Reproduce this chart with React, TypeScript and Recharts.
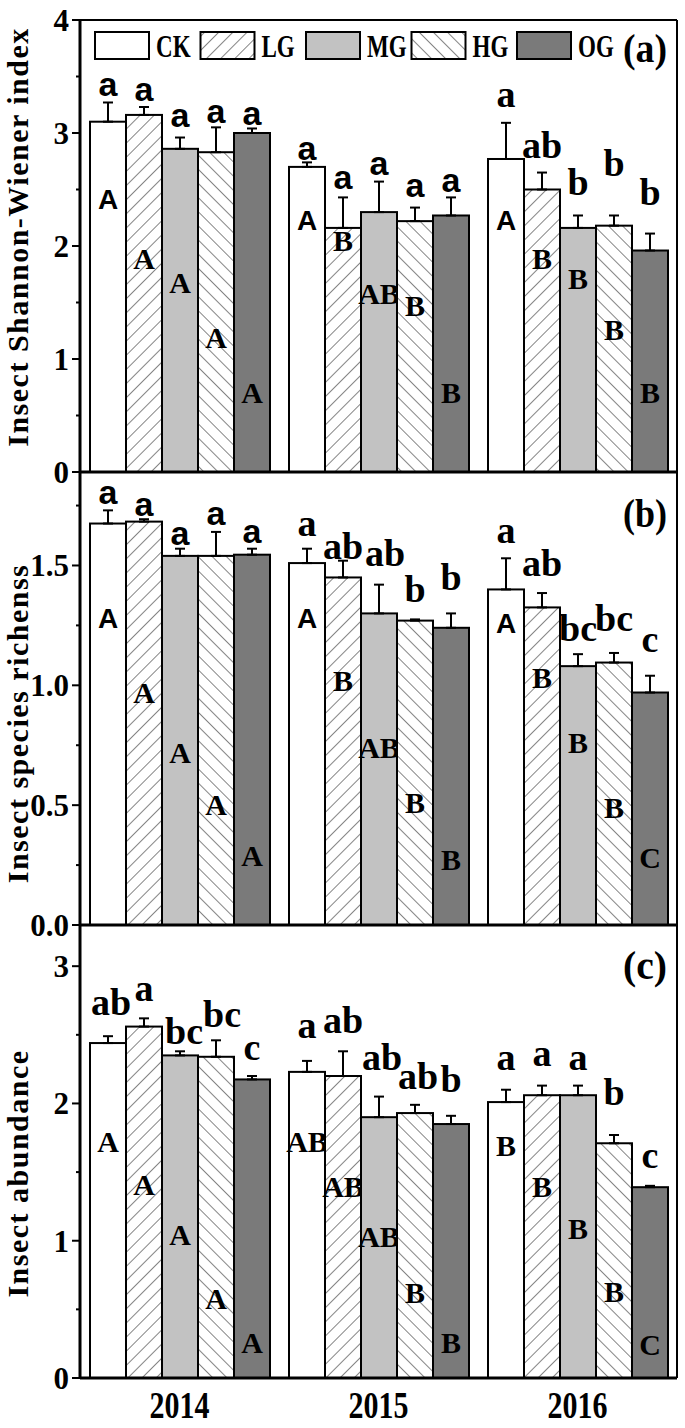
import { Bar, BarChart, ErrorBar, Legend, ReferenceLine, XAxis, YAxis } from "recharts";

const YEARS = ["2014", "2015", "2016"];
const GROUPS = ["CK", "LG", "MG", "HG", "OG"];

// every table: rows follow GROUPS, columns follow YEARS

// (a) Shannon-Wiener index
const shannonMean = [
  [3.1, 2.7, 2.77],
  [3.16, 2.16, 2.5],
  [2.86, 2.3, 2.16],
  [2.83, 2.22, 2.18],
  [3.0, 2.27, 1.96],
];
const shannonErr = [
  [0.17, 0.04, 0.32],
  [0.07, 0.27, 0.15],
  [0.1, 0.27, 0.11],
  [0.22, 0.12, 0.09],
  [0.04, 0.16, 0.15],
];
const shannonYearLetters = [
  ["a", "a", "a"],
  ["a", "a", "ab"],
  ["a", "a", "b"],
  ["a", "a", "b"],
  ["a", "a", "b"],
];
const shannonGroupLetters = [
  ["A", "A", "A"],
  ["A", "B", "B"],
  ["A", "AB", "B"],
  ["A", "B", "B"],
  ["A", "B", "B"],
];
// letter centres, in axis units
const shannonYearLetterAt = [
  [3.4, 2.83, 3.31],
  [3.35, 2.57, 2.89],
  [3.12, 2.7, 2.57],
  [3.16, 2.5, 2.73],
  [3.14, 2.55, 2.48],
];
const shannonGroupLetterAt = [
  [2.41, 2.23, 2.23],
  [1.89, 2.05, 1.89],
  [1.67, 1.58, 1.71],
  [1.19, 1.47, 1.26],
  [0.7, 0.7, 0.7],
];
const shannonTicks = [0, 0.5, 1, 1.5, 2, 2.5, 3, 3.5, 4];

// (b) species richness
const richnessMean = [
  [1.675, 1.51, 1.4],
  [1.683, 1.45, 1.325],
  [1.54, 1.3, 1.08],
  [1.54, 1.27, 1.095],
  [1.545, 1.24, 0.97],
];
const richnessErr = [
  [0.055, 0.06, 0.13],
  [0.01, 0.07, 0.06],
  [0.03, 0.12, 0.05],
  [0.1, 0.005, 0.04],
  [0.025, 0.06, 0.07],
];
const richnessYearLetters = [
  ["a", "a", "a"],
  ["a", "ab", "ab"],
  ["a", "ab", "bc"],
  ["a", "b", "bc"],
  ["a", "b", "c"],
];
const richnessGroupLetters = [
  ["A", "A", "A"],
  ["A", "B", "B"],
  ["A", "AB", "B"],
  ["A", "B", "B"],
  ["A", "B", "C"],
];
const richnessYearLetterAt = [
  [1.79, 1.66, 1.63],
  [1.74, 1.58, 1.51],
  [1.62, 1.55, 1.24],
  [1.7, 1.4, 1.28],
  [1.625, 1.45, 1.175],
];
const richnessGroupLetterAt = [
  [1.28, 1.28, 1.26],
  [0.97, 1.02, 1.03],
  [0.72, 0.74, 0.76],
  [0.5, 0.51, 0.49],
  [0.29, 0.27, 0.28],
];
const richnessTicks = [0, 0.25, 0.5, 0.75, 1, 1.25, 1.5, 1.75];

// (c) abundance
const abundanceMean = [
  [2.44, 2.23, 2.01],
  [2.56, 2.2, 2.06],
  [2.35, 1.9, 2.06],
  [2.34, 1.93, 1.71],
  [2.175, 1.85, 1.39],
];
const abundanceErr = [
  [0.05, 0.08, 0.09],
  [0.06, 0.18, 0.07],
  [0.03, 0.15, 0.07],
  [0.12, 0.06, 0.06],
  [0.025, 0.06, 0.01],
];
const abundanceYearLetters = [
  ["ab", "a", "a"],
  ["a", "ab", "a"],
  ["bc", "ab", "a"],
  ["bc", "ab", "b"],
  ["c", "b", "c"],
];
const abundanceGroupLetters = [
  ["A", "AB", "B"],
  ["A", "AB", "B"],
  ["A", "AB", "B"],
  ["A", "B", "B"],
  ["A", "B", "C"],
];
const abundanceYearLetterAt = [
  [2.74, 2.54, 2.31],
  [2.81, 2.61, 2.34],
  [2.53, 2.34, 2.31],
  [2.65, 2.2, 2.08],
  [2.38, 2.175, 1.59],
];
const abundanceGroupLetterAt = [
  [1.72, 1.72, 1.69],
  [1.41, 1.39, 1.39],
  [1.04, 1.03, 1.09],
  [0.58, 0.62, 0.63],
  [0.26, 0.26, 0.24],
];
const abundanceTicks = [0, 0.5, 1, 1.5, 2, 2.5, 3];

const SERIF = "Liberation Serif, serif";
const SANS = "Liberation Sans, sans-serif";
const PLOT_RIGHT = 677;

// small sideways shifts so crowded letters don't collide (panel-group-year)
const NUDGE: Record<string, number> = {
  "b-2-1": 6,
  "c-0-0": 3,
  "c-2-0": 4,
  "c-3-0": 6,
  "c-2-1": 3,
  "c-3-1": 3,
};

// rough Times-bold advance widths, used to squeeze the legend labels
const CAP_W: Record<string, number> = { C: 0.722, K: 0.778, L: 0.667, G: 0.778, M: 0.944, H: 0.778, O: 0.778 };

type Panel = {
  id: string;
  title: string;
  tag: string;
  mean: number[][];
  err: number[][];
  lower: string[][];
  upper: string[][];
  lowerAt: number[][];
  upperAt: number[][];
  domain: [number, number];
  ticks: number[];
  step: number;
  decimals: number;
  sansLowerYears: number[];
  sansUpperGroups: number[];
  titleShift: number;
  tagDy: number;
};

const panels: Panel[] = [
  {
    id: "a",
    title: "Insect Shannon-Wiener index",
    tag: "(a)",
    mean: shannonMean,
    err: shannonErr,
    lower: shannonYearLetters,
    upper: shannonGroupLetters,
    lowerAt: shannonYearLetterAt,
    upperAt: shannonGroupLetterAt,
    domain: [0, 4],
    ticks: shannonTicks,
    step: 1,
    decimals: 0,
    sansLowerYears: [0, 1],
    sansUpperGroups: [0],
    titleShift: -9,
    tagDy: 42,
  },
  {
    id: "b",
    title: "Insect species richenss",
    tag: "(b)",
    mean: richnessMean,
    err: richnessErr,
    lower: richnessYearLetters,
    upper: richnessGroupLetters,
    lowerAt: richnessYearLetterAt,
    upperAt: richnessGroupLetterAt,
    domain: [0, 1.89],
    ticks: richnessTicks,
    step: 0.5,
    decimals: 1,
    sansLowerYears: [0],
    sansUpperGroups: [0],
    titleShift: 25,
    tagDy: 55,
  },
  {
    id: "c",
    title: "Insect abundance",
    tag: "(c)",
    mean: abundanceMean,
    err: abundanceErr,
    lower: abundanceYearLetters,
    upper: abundanceGroupLetters,
    lowerAt: abundanceYearLetterAt,
    upperAt: abundanceGroupLetterAt,
    domain: [0, 3.3],
    ticks: abundanceTicks,
    step: 1,
    decimals: 0,
    sansLowerYears: [],
    sansUpperGroups: [],
    titleShift: 22,
    tagDy: 54,
  },
];

function fillFor(group: string, suffix: string) {
  if (group === "LG") return `url(#lg-${suffix})`;
  if (group === "HG") return `url(#hg-${suffix})`;
  if (group === "MG") return "#c2c2c2";
  if (group === "OG") return "#7a7a7a";
  return "#ffffff";
}

function Hatches({ suffix }: { suffix: string }) {
  return (
    <defs>
      <pattern id={`lg-${suffix}`} patternUnits="userSpaceOnUse" width={10} height={10} patternTransform="rotate(45)">
        <rect width={10} height={10} fill="#fff" />
        <line x1={0} y1={0} x2={0} y2={10} stroke="#333" strokeWidth={1.2} />
      </pattern>
      <pattern id={`hg-${suffix}`} patternUnits="userSpaceOnUse" width={10} height={10} patternTransform="rotate(-45)">
        <rect width={10} height={10} fill="#fff" />
        <line x1={0} y1={0} x2={0} y2={10} stroke="#333" strokeWidth={1.2} />
      </pattern>
    </defs>
  );
}

function buildRows(mean: number[][], err: number[][]) {
  return YEARS.map((year, j) => {
    const row: Record<string, any> = { year };
    GROUPS.forEach((g, i) => {
      row[g] = mean[i][j];
      row[g + "Err"] = [0, err[i][j]];
    });
    return row;
  });
}

function barShape(p: Panel, gi: number) {
  return (props: any) => {
    const { x, y, width, height, payload } = props;
    const yi = YEARS.indexOf(payload.year);
    const v = p.mean[gi][yi];
    const k = v ? height / v : 0;
    const base = y + height;
    const cx = x + width / 2;
    const low = p.lower[gi][yi];
    const up = p.upper[gi][yi];
    const lowY = base - p.lowerAt[gi][yi] * k;
    const upY = base - p.upperAt[gi][yi] * k;
    const lowSans = p.sansLowerYears.includes(yi);
    const upSans = p.sansUpperGroups.includes(gi);
    const tall = /[bd]/.test(low);
    const lowSize = lowSans ? 34 : 38;
    const lowBase = lowY + (tall ? 0.34 : 0.23) * lowSize;
    const upSize = upSans ? 28 : 30;
    const dx = NUDGE[`${p.id}-${gi}-${yi}`] || 0;
    return (
      <g>
        <rect x={x} y={y} width={width} height={height} fill={fillFor(GROUPS[gi], p.id)} stroke="#000" strokeWidth={2} />
        <text
          x={cx}
          y={upY + upSize * 0.34}
          textAnchor="middle"
          fontFamily={upSans ? SANS : SERIF}
          fontWeight="bold"
          fontSize={upSize}
          fill="#000"
        >
          {up}
        </text>
        <text
          x={cx + dx}
          y={lowBase}
          textAnchor="middle"
          fontFamily={lowSans ? SANS : SERIF}
          fontWeight="bold"
          fontSize={lowSize}
          fill="#000"
        >
          {low}
        </text>
      </g>
    );
  };
}

function YTick(props: any) {
  const { x, y, payload, step, decimals } = props;
  const v = payload.value;
  const major = Math.abs(v / step - Math.round(v / step)) < 1e-6;
  return (
    <g>
      <line x1={x - (major ? 8 : 4)} x2={x} y1={y} y2={y} stroke="#000" strokeWidth={2} />
      {major && (
        <text x={x - 11} y={y + 11} textAnchor="end" fontFamily={SERIF} fontWeight="bold" fontSize={31} fill="#000">
          {v.toFixed(decimals)}
        </text>
      )}
    </g>
  );
}

function XTick(props: any) {
  const { x, y, payload } = props;
  return (
    <text
      x={x}
      y={y + 40}
      textAnchor="middle"
      textLength={60}
      lengthAdjust="spacingAndGlyphs"
      fontFamily={SERIF}
      fontWeight="bold"
      fontSize={38}
      fill="#000"
    >
      {payload.value}
    </text>
  );
}

function LegendBoxes() {
  const fs = 32;
  return (
    <svg width={590} height={40} style={{ display: "block", overflow: "visible" }}>
      <Hatches suffix="legend" />
      {GROUPS.map((g, i) => {
        const bx = 3 + i * 105.5;
        const natural = g.split("").reduce((s, c) => s + (CAP_W[c] || 0.7), 0) * fs;
        return (
          <g key={g}>
            <rect x={bx} y={1} width={54} height={27} fill={fillFor(g, "legend")} stroke="#000" strokeWidth={2} />
            <text
              x={bx + 61}
              y={26}
              textLength={natural * 0.72}
              lengthAdjust="spacingAndGlyphs"
              fontFamily={SERIF}
              fontWeight="bold"
              fontSize={fs}
              fill="#000"
            >
              {g}
            </text>
          </g>
        );
      })}
    </svg>
  );
}

// axis title, right-hand frame line and panel tag, placed from the axis box
function sideDecor(p: Panel) {
  return (lp: any) => {
    const vb = lp.viewBox;
    const cy = vb.y + vb.height / 2 + p.titleShift;
    return (
      <g>
        <text
          transform={`translate(28,${cy}) rotate(-90)`}
          textAnchor="middle"
          fontFamily={SERIF}
          fontWeight="bold"
          fontSize={30}
          letterSpacing={1.5}
          fill="#000"
        >
          {p.title}
        </text>
        <line x1={PLOT_RIGHT} x2={PLOT_RIGHT} y1={vb.y} y2={vb.y + vb.height} stroke="#000" strokeWidth={2} />
        <text
          x={PLOT_RIGHT - 32}
          y={vb.y + p.tagDy}
          textAnchor="middle"
          textLength={44}
          lengthAdjust="spacingAndGlyphs"
          fontFamily={SERIF}
          fontWeight="bold"
          fontSize={41}
          fill="#000"
        >
          {p.tag}
        </text>
      </g>
    );
  };
}

function PanelChart({ p, top, last }: { p: Panel; top: number; last: boolean }) {
  const rows = buildRows(p.mean, p.err);
  const first = p.id === "a";
  const mTop = first ? 20 : 28;
  const plotH = first ? 452 : 453;
  const mBottom = last ? 0 : 28;
  const xH = last ? 50 : 0;
  const height = mTop + plotH + mBottom + xH;
  return (
    <div style={{ position: "absolute", left: 0, top }}>
      <BarChart
        width={685}
        height={height}
        data={rows}
        margin={{ top: mTop, right: 685 - PLOT_RIGHT, bottom: mBottom, left: 0 }}
        barCategoryGap={10}
        barGap={0}
      >
        <Hatches suffix={p.id} />
        <XAxis
          dataKey="year"
          height={xH}
          hide={!last}
          axisLine={{ stroke: "#000", strokeWidth: 3 }}
          tickLine={false}
          tickSize={0}
          tickMargin={0}
          tick={(tp: any) => <XTick {...tp} />}
        />
        <YAxis
          width={80}
          domain={p.domain}
          ticks={p.ticks}
          interval={0}
          axisLine={{ stroke: "#000", strokeWidth: 3 }}
          tickLine={false}
          tickSize={0}
          tickMargin={0}
          tick={(tp: any) => <YTick {...tp} step={p.step} decimals={p.decimals} />}
          label={sideDecor(p)}
        />
        <ReferenceLine y={p.domain[1]} stroke="#000" strokeWidth={2} />
        {!last && <ReferenceLine y={0} stroke="#000" strokeWidth={3} />}
        {first && (
          <Legend
            verticalAlign="middle"
            align="center"
            layout="horizontal"
            wrapperStyle={{ top: 31, left: 92, width: 590 }}
            content={() => <LegendBoxes />}
          />
        )}
        {GROUPS.map((g, gi) => (
          <Bar key={g} dataKey={g} isAnimationActive={false} shape={barShape(p, gi)}>
            <ErrorBar dataKey={g + "Err"} direction="y" width={5} stroke="#000" strokeWidth={2} isAnimationActive={false} />
          </Bar>
        ))}
      </BarChart>
    </div>
  );
}

export default function App() {
  return (
    <div style={{ position: "absolute", left: 0, top: 0, width: 685, height: 1428, background: "#fff" }}>
      <PanelChart p={panels[0]} top={0} last={false} />
      <PanelChart p={panels[1]} top={444} last={false} />
      <PanelChart p={panels[2]} top={897} last={true} />
    </div>
  );
}
